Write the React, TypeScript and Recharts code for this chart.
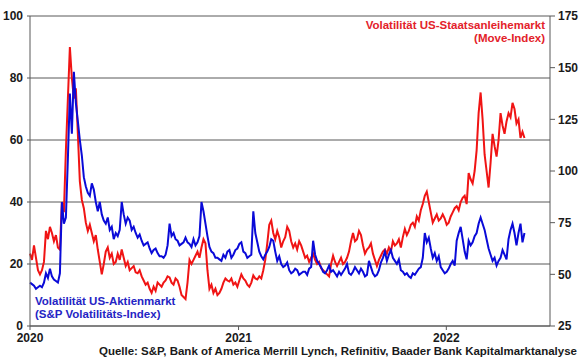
import { LineChart, Line, XAxis, YAxis, CartesianGrid } from 'recharts'

// weekly closes, first point = first week of Jan 2020
const vixWeekly = [
  14, 13, 12.5, 12.5, 17, 18.5, 15, 14, 40, 35,
  75, 82, 66, 55, 45, 42, 44, 37, 36, 33,
  31, 28, 29, 40, 33, 34, 32, 28.5, 27.5, 26.5,
  25, 24.5, 23.5, 22.5, 23, 33, 30, 27.5, 26.5, 28.5,
  26.5, 28, 27, 40, 33, 25.5, 23.5, 22, 21, 22,
  24.5, 23, 25, 27, 23.5, 22.5, 37, 27, 22.5, 23,
  25.5, 27.5, 21, 20, 19.5, 18, 17.5, 18, 17, 17.5,
  18.5, 27.5, 21, 19, 17, 19.5, 18, 16, 16.5, 18.5,
  17, 17.5, 18, 18.5, 16, 21, 17, 16.5, 20.5, 24,
  23, 22, 20, 18, 16.5, 16, 17, 17.5, 19, 30,
  28.5, 22, 21, 19, 17, 18.5, 21, 27.5, 32, 24,
  27.5, 27, 30, 35, 31, 25, 21, 19.5, 22, 23,
  28, 33, 26, 33, 30,
]
// mid-week readings (between week i and i+1)
const vixMidweek = [
  13.5, 12, 13, 14, 15.5, 16, 14.5, 17, 33, 54,
  62, 72, 60, 48, 43, 46, 40, 40, 34, 35,
  32, 30, 31, 36, 35, 31, 30, 29.5, 26, 27,
  23.5, 25, 22.5, 22, 26, 29, 28, 26, 27, 27,
  25.5, 26, 29, 37, 29, 24, 22, 21.5, 23, 24,
  22, 24.5, 26.5, 24, 22, 23, 30, 24, 21.5, 24,
  28, 24, 22.5, 19, 20.5, 17, 18.5, 16.5, 17.5, 16.5,
  19, 23, 20, 17.5, 18, 17.5, 17, 17.5, 17.5, 20,
  16.5, 19, 17, 17.5, 16.5, 19, 16, 18, 22, 21,
  24.5, 21, 21.5, 17.5, 17, 15.5, 16.5, 18.5, 22, 27,
  25, 23.5, 22.5, 18, 17.5, 20, 19.5, 30, 28, 21.5,
  26, 29, 33, 33, 28, 23, 22, 21, 24.5, 21.5,
  31, 30, 30, 27,
]

const moveWeekly = [
  60, 64, 52, 52, 71, 73, 66, 63, 85, 110,
  160, 135, 118, 86, 75, 74, 66, 62, 50, 61,
  58, 55, 60, 62, 54, 52, 54, 50.5, 49, 45,
  43, 44, 46, 44, 47, 48.5, 45, 47, 40, 38,
  57, 57, 61, 63, 65, 43, 41, 40, 43, 48,
  46.5, 45, 44, 50, 47, 44, 49.5, 47.5, 48, 57,
  74, 70, 71, 63, 68, 71, 63, 62, 64, 58,
  56, 60, 55, 53, 51, 49, 59, 54, 58, 56,
  61, 70, 67, 69, 60, 63, 60, 54, 59, 62,
  63, 66, 65, 63, 72, 71, 75, 78, 81, 88,
  85, 75, 79, 77, 77, 75, 80, 83, 85, 88,
  99, 94, 110, 138, 108, 92, 118, 107, 128, 118,
  128, 133, 123, 116, 116,
]
const moveMidweek = [
  57, 58, 50, 56, 67, 70, 69, 62, 80, 135,
  145, 140, 95, 82, 71, 70, 69, 56, 55, 63,
  60, 56, 57, 58, 56, 53, 51, 52, 47, 46,
  41, 42, 45, 46, 49, 46, 48, 44, 39, 46,
  55, 59, 58, 67, 52, 45, 43, 41, 46, 47,
  48, 46, 47, 48, 45, 46, 48, 49, 52, 65,
  76, 67, 68, 66, 73, 66, 65, 66, 61, 59,
  58, 57, 56, 52, 50, 55, 56, 56, 55, 58,
  66, 66, 71, 64, 62, 65, 57, 57, 61, 60,
  61, 64, 67, 68, 69, 74, 73, 76, 84, 90,
  80, 77, 76, 79, 74, 78, 82, 81, 87, 84,
  96, 100, 128, 125, 100, 104, 112, 115, 122, 124,
  126, 130, 125, 119,
]

const yearLabels = ['2020', '2021', '2022']
const yearStartWeeks = [0, 52.3, 104.4]
const leftTicks = [0, 20, 40, 60, 80, 100]
const rightTicks = [25, 50, 75, 100, 125, 150, 175]

const sourceText = 'Quelle: S&P, Bank of America Merrill Lynch, Refinitiv, Baader Bank Kapitalmarktanalyse'

const font = '"Liberation Sans", Arial, sans-serif'
const axisColor = '#595959'

const data: { week: number; vix: number; move: number }[] = []
vixWeekly.forEach((v, i) => {
  data.push({ week: i, vix: v, move: moveWeekly[i] })
  if (i < vixMidweek.length) {
    data.push({ week: i + 0.5, vix: vixMidweek[i], move: moveMidweek[i] })
  }
})

export default function App() {
  const tickStyle = { fill: '#1a1a1a', fontSize: 12, fontWeight: 700, fontFamily: font }

  return (
    <div style={{ position: 'relative', width: 580, height: 359, background: '#fff', fontFamily: font }}>
      <style>{'body{margin:0}'}</style>
      <LineChart width={580} height={359} data={data} margin={{ top: 16, right: 0, bottom: 8, left: 0 }}>
        <CartesianGrid yAxisId="left" vertical={false} stroke={axisColor} strokeWidth={1} />
        <XAxis
          dataKey="week"
          type="number"
          domain={[0, 130.4]}
          ticks={yearStartWeeks}
          tickFormatter={(v) => yearLabels[yearStartWeeks.indexOf(v)]}
          stroke={axisColor}
          tickSize={4}
          tickMargin={3}
          height={25}
          tick={tickStyle}
        />
        <YAxis
          yAxisId="left"
          domain={[0, 100]}
          ticks={leftTicks}
          width={30}
          stroke={axisColor}
          tickSize={3}
          tickMargin={4}
          tick={tickStyle}
        />
        <YAxis
          yAxisId="right"
          orientation="right"
          domain={[25, 175]}
          ticks={rightTicks}
          width={30}
          stroke={axisColor}
          tickSize={5}
          tickMargin={3}
          tick={tickStyle}
        />
        <Line
          yAxisId="right"
          dataKey="move"
          stroke="#f01414"
          strokeWidth={2}
          dot={false}
          isAnimationActive={false}
        />
        <Line
          yAxisId="left"
          dataKey="vix"
          stroke="#0a0ad8"
          strokeWidth={2}
          dot={false}
          isAnimationActive={false}
        />
      </LineChart>

      <div style={{ position: 'absolute', right: 35, top: 19, textAlign: 'right', color: '#e3222a', fontSize: 11.5, fontWeight: 700, lineHeight: '13px' }}>
        Volatilität US-Staatsanleihemarkt
        <br />
        (Move-Index)
      </div>
      <div style={{ position: 'absolute', left: 35, top: 295, color: '#2424c4', fontSize: 11.5, fontWeight: 700, lineHeight: '13px' }}>
        Volatilität US-Aktienmarkt
        <br />
        (S&amp;P Volatilitäts-Index)
      </div>
      <div style={{ position: 'absolute', right: 3, top: 345, color: '#1a1a1a', fontSize: 11.5, fontWeight: 700, lineHeight: '13px', whiteSpace: 'nowrap' }}>
        {sourceText}
      </div>
    </div>
  )
}
